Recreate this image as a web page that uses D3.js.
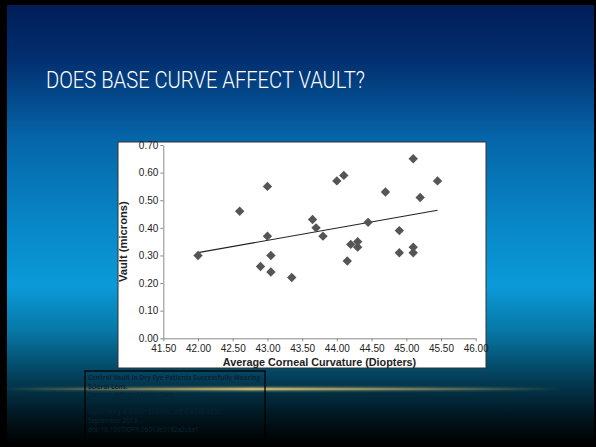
<!DOCTYPE html>
<html>
<head>
<meta charset="utf-8">
<script src="https://cdn.jsdelivr.net/npm/d3@7"></script>
<style>
  html, body { margin: 0; padding: 0; background: #000; }
  svg { display: block; }
</style>
</head>
<body>
<svg id="chart" width="596" height="447"></svg>
<script>
// ---- data ----
const title = "DOES BASE CURVE AFFECT VAULT?";
const xLabel = "Average Corneal Curvature (Diopters)";
const yLabel = "Vault (microns)";
const curvature = [42.00, 42.60, 42.90, 43.00, 43.00, 43.05, 43.05, 43.35, 43.65, 43.70, 43.80, 44.00, 44.10,
                   44.15, 44.20, 44.30, 44.30, 44.45, 44.70, 44.90, 44.90, 45.10, 45.10, 45.10, 45.20, 45.45];
const vault =     [0.30, 0.46, 0.26, 0.55, 0.37, 0.30, 0.24, 0.22, 0.43, 0.40, 0.37, 0.57, 0.59,
                   0.28, 0.34, 0.35, 0.33, 0.42, 0.53, 0.39, 0.31, 0.65, 0.33, 0.31, 0.51, 0.57];
const xTicks = [41.5, 42.0, 42.5, 43.0, 43.5, 44.0, 44.5, 45.0, 45.5, 46.0];
const yTicks = [0.0, 0.1, 0.2, 0.3, 0.4, 0.5, 0.6, 0.7];
const citation = [
  {text: "Central Vault in Dry Eye Patients Successfully Wearing", bold: true},
  {text: "Scleral Lens.", bold: true},
  {text: "Sonsino, Jeffrey; Mathe, Dina.", bold: false},
  {text: "", bold: false},
  {text: "Optometry & Vision Science. 90(9):e248-e251,", bold: false},
  {text: "September 2013.", bold: false},
  {text: "doi: 10.1097/OPX.0b013e3182a2c8a1", bold: false}
];

const svg = d3.select("#chart");
const defs = svg.append("defs");

// slide background gradient
const bg = defs.append("linearGradient").attr("id", "bg").attr("x1", 0).attr("y1", 0).attr("x2", 0).attr("y2", 1);
[[0, "#011d58"], [0.12, "#022e6e"], [0.3, "#0565a8"], [0.5, "#0887c7"], [0.64, "#0b9ad8"],
 [0.74, "#0779a8"], [0.85, "#033e58"], [0.93, "#011923"], [1, "#000000"]]
  .forEach(([o, c]) => bg.append("stop").attr("offset", o).attr("stop-color", c));

const gold = defs.append("linearGradient").attr("id", "gold").attr("x1", 0).attr("y1", 0).attr("x2", 1).attr("y2", 0);
[[0, "#d8b860", 0], [0.2, "#d8b860", 0.4], [0.45, "#f0d27a", 0.9], [0.7, "#e0c070", 0.55], [1, "#d8b860", 0]]
  .forEach(([o, c, a]) => gold.append("stop").attr("offset", o).attr("stop-color", c).attr("stop-opacity", a));

const blur = defs.append("filter").attr("id", "glow").attr("x", "-10%").attr("y", "-300%").attr("width", "120%").attr("height", "700%");
blur.append("feGaussianBlur").attr("stdDeviation", 1.2);

const soft = defs.append("filter").attr("id", "soft").attr("x", "-50%").attr("y", "-50%").attr("width", "200%").attr("height", "200%");
soft.append("feGaussianBlur").attr("stdDeviation", 0.45);

// slide
svg.append("rect").attr("x", 0).attr("y", 0).attr("width", 596).attr("height", 447).attr("fill", "#000");
svg.append("rect").attr("x", 7).attr("y", 5).attr("width", 587).attr("height", 439).attr("fill", "url(#bg)");

// title
svg.append("text")
  .attr("x", 46).attr("y", 88)
  .attr("fill", "#ffffff")
  .attr("font-family", "Roboto, 'Liberation Sans', sans-serif")
  .attr("font-weight", 300)
  .attr("font-size", 23)
  .attr("textLength", 319).attr("lengthAdjust", "spacingAndGlyphs")
  .text(title);

// gold rule line
svg.append("rect").attr("x", 0).attr("y", 387.5).attr("width", 560).attr("height", 3)
  .attr("fill", "url(#gold)").attr("filter", "url(#glow)");
svg.append("rect").attr("x", 0).attr("y", 388.5).attr("width", 560).attr("height", 1)
  .attr("fill", "url(#gold)");

// citation box
const cb = svg.append("g");
cb.append("rect").attr("x", 85).attr("y", 371).attr("width", 180).attr("height", 80)
  .attr("fill", "none").attr("stroke", "#000").attr("stroke-width", 1.3);
cb.selectAll("text.cite").data(citation).join("text")
  .attr("class", "cite")
  .attr("x", 88)
  .attr("y", (d, i) => 380 + i * 8.6)
  .attr("fill", "#0b2433")
  .attr("font-family", "'Open Sans', 'Liberation Sans', sans-serif")
  .attr("font-size", 6.4)
  .attr("font-weight", d => d.bold ? "bold" : "normal")
  .text(d => d.text);

// chart white panel
svg.append("rect").attr("x", 118).attr("y", 142).attr("width", 368).attr("height", 226)
  .attr("fill", "#ffffff").attr("stroke", "#333").attr("stroke-width", 1);

const x = d3.scaleLinear().domain([41.5, 46.0]).range([163.3, 475.7]);
const y = d3.scaleLinear().domain([0, 0.7]).range([338.3, 145]);

const fontAxis = "'Liberation Sans', Arial, sans-serif";

const xAxis = svg.append("g").attr("transform", `translate(0,${y(0)})`)
  .call(d3.axisBottom(x).tickValues(xTicks).tickFormat(d3.format(".2f")).tickSize(3).tickSizeOuter(0));
const yAxis = svg.append("g").attr("transform", `translate(${x(41.5)},0)`)
  .call(d3.axisLeft(y).tickValues(yTicks).tickFormat(d3.format(".2f")).tickSize(3).tickSizeOuter(0));

[xAxis, yAxis].forEach(a => {
  a.select(".domain").attr("stroke", "#8a8a8a").attr("stroke-width", 1);
  a.selectAll(".tick line").attr("stroke", "#8a8a8a");
  a.selectAll(".tick text").attr("fill", "#222").attr("font-family", fontAxis).attr("font-size", 10);
});
xAxis.selectAll(".tick text").attr("dy", "0.55em").attr("y", 8);
yAxis.selectAll(".tick text").attr("x", -5);

// axis titles
svg.append("text")
  .attr("x", (x(41.5) + x(46)) / 2).attr("y", 366)
  .attr("text-anchor", "middle")
  .attr("fill", "#222").attr("font-family", fontAxis).attr("font-weight", "bold").attr("font-size", 10.8)
  .text(xLabel);
svg.append("text")
  .attr("transform", `translate(127,${(y(0) + y(0.7)) / 2}) rotate(-90)`)
  .attr("text-anchor", "middle")
  .attr("fill", "#222").attr("font-family", fontAxis).attr("font-weight", "bold").attr("font-size", 11.2)
  .text(yLabel);

// regression trend line computed from the data
const mx = d3.mean(curvature), my = d3.mean(vault);
let sxy = 0, sxx = 0;
curvature.forEach((cx, i) => { sxy += (cx - mx) * (vault[i] - my); sxx += (cx - mx) * (cx - mx); });
const slope = sxy / sxx, icpt = my - slope * mx;
const xr = d3.extent(curvature);
svg.append("path")
  .attr("d", d3.line().x(d => x(d)).y(d => y(icpt + slope * d))(xr))
  .attr("stroke", "#222").attr("stroke-width", 1.1).attr("fill", "none");

// markers
const pts = curvature.map((c, i) => ({x: c, y: vault[i]}));
const sym = d3.symbol().type(d3.symbolSquare).size(44);
svg.append("g").attr("filter", "url(#soft)")
  .selectAll("path.pt").data(pts).join("path")
  .attr("class", "pt")
  .attr("d", sym)
  .attr("transform", d => `translate(${x(d.x)},${y(d.y)}) rotate(45)`)
  .attr("fill", "#555555");
</script>
</body>
</html>
